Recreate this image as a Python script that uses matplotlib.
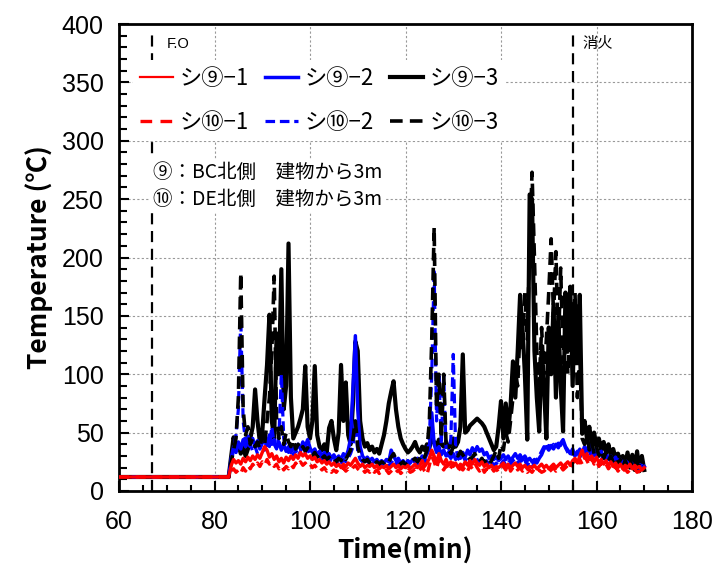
import numpy as np
import matplotlib
matplotlib.use('Agg')
import matplotlib.pyplot as plt
from matplotlib.lines import Line2D
from matplotlib.ticker import MultipleLocator
from matplotlib.font_manager import FontProperties

# 時間軸 (min) : 60-83 はほぼ一定, 83 以降は 0.5 min 刻みで読み取り
t_base = [60, 83]
t_fire = np.arange(83.0, 170.01, 0.5)

# シ⑨-1 (赤 実線)
s9_1 = [12, 12,
        13, 22, 27, 24, 26, 23, 28, 25, 29, 26,
        30, 27, 31, 28, 33, 38, 35, 29, 32, 27,
        30, 25, 28, 24, 29, 26, 30, 27, 31, 28,
        33, 30, 32, 28, 30, 27, 29, 25, 27, 24,
        26, 23, 25, 22, 24, 21, 23, 20, 23, 21,
        24, 22, 25, 28, 24, 21, 23, 20, 22, 21,
        23, 20, 22, 19, 21, 20, 22, 19, 21, 23,
        20, 22, 19, 21, 20, 22, 19, 21, 23, 20,
        22, 26, 21, 24, 28, 35, 30, 24, 32, 26,
        23, 27, 22, 25, 21, 24, 20, 23, 21, 25,
        22, 26, 23, 27, 24, 22, 25, 21, 23, 20,
        22, 19, 21, 20, 22, 24, 21, 23, 20, 22,
        24, 21, 23, 20, 22, 19, 21, 20, 22, 19,
        21, 23, 20, 22, 19, 21, 23, 20, 22, 24,
        21, 23, 25, 22, 26, 28, 24, 30, 35, 28,
        32, 27, 30, 25, 29, 24, 27, 23, 26, 22,
        25, 21, 24, 20, 23, 19, 22, 20, 23, 19,
        22, 20, 21, 18, 20]

# シ⑩-1 (赤 破線)
s10_1 = [12, 12,
         12, 17, 19, 16, 18, 15, 20, 17, 22, 19,
         23, 20, 24, 21, 25, 22, 27, 23, 25, 21,
         23, 19, 22, 18, 21, 19, 23, 20, 24, 21,
         25, 22, 24, 21, 23, 20, 22, 19, 21, 18,
         20, 17, 19, 16, 18, 16, 19, 17, 20, 17,
         19, 17, 20, 22, 19, 17, 19, 16, 18, 16,
         19, 16, 18, 15, 17, 16, 18, 15, 17, 19,
         16, 18, 15, 17, 16, 18, 16, 17, 19, 16,
         18, 21, 17, 14, 22, 30, 25, 19, 27, 21,
         18, 22, 17, 20, 24, 19, 17, 20, 18, 21,
         17, 22, 19, 24, 20, 17, 21, 16, 19, 17,
         20, 17, 19, 16, 18, 21, 18, 24, 17, 20,
         22, 18, 20, 17, 19, 16, 18, 16, 19, 16,
         18, 16, 17, 19, 16, 18, 20, 17, 19, 21,
         18, 20, 22, 19, 24, 26, 21, 27, 23, 30,
         26, 22, 28, 23, 26, 21, 24, 20, 23, 19,
         22, 18, 21, 17, 20, 17, 19, 16, 18, 16,
         19, 16, 17, 15, 17]

# シ⑨-2 (青 実線)
s9_2 = [12, 12,
        13, 28, 38, 33, 42, 36, 44, 38, 47, 40,
        45, 38, 43, 36, 41, 46, 39, 48, 40, 44,
        37, 42, 35, 40, 34, 38, 33, 37, 35, 40,
        36, 42, 38, 44, 37, 33, 36, 31, 34, 30,
        33, 29, 32, 28, 31, 27, 30, 27, 32, 29,
        35, 45, 90, 133, 70, 38, 30, 27, 29, 26,
        28, 25, 27, 24, 26, 24, 27, 25, 35, 30,
        26, 28, 24, 26, 23, 26, 24, 27, 25, 28,
        26, 30, 27, 32, 36, 67, 40, 33, 38, 31,
        35, 30, 33, 28, 32, 27, 30, 28, 33, 29,
        35, 31, 37, 33, 38, 34, 36, 31, 33, 28,
        30, 27, 29, 26, 28, 31, 27, 30, 26, 29,
        32, 28, 31, 27, 30, 26, 28, 25, 27, 24,
        28, 31, 36, 38, 35, 39, 36, 40, 37, 41,
        44, 38, 35, 32, 36, 30, 34, 29, 33, 38,
        34, 40, 35, 31, 36, 30, 34, 28, 32, 27,
        30, 25, 29, 24, 27, 23, 26, 22, 25, 21,
        24, 20, 23, 19, 21]

# シ⑩-2 (青 破線)
s10_2 = [12, 12,
         12, 25, 35, 48, 70, 148, 60, 42, 36, 40,
         34, 38, 32, 37, 42, 35, 45, 38, 55, 40,
         36, 48, 100, 45, 38, 33, 37, 31, 35, 30,
         34, 38, 33, 36, 31, 28, 31, 27, 30, 26,
         29, 25, 28, 24, 27, 23, 26, 23, 27, 25,
         28, 32, 38, 60, 34, 27, 25, 22, 24, 22,
         24, 21, 23, 21, 23, 21, 23, 21, 24, 27,
         23, 25, 22, 24, 21, 23, 21, 24, 26, 23,
         25, 28, 24, 30, 45, 100, 190, 60, 101, 40,
         99, 35, 30, 45, 117, 38, 28, 26, 30, 26,
         29, 25, 28, 31, 27, 24, 27, 23, 26, 22,
         25, 22, 24, 21, 23, 26, 22, 25, 23, 26,
         28, 24, 27, 23, 26, 22, 25, 22, 24, 27,
         30, 34, 38, 36, 39, 37, 40, 38, 41, 39,
         43, 37, 33, 30, 34, 29, 32, 36, 31, 35,
         30, 34, 29, 33, 28, 32, 27, 30, 26, 29,
         25, 28, 24, 27, 23, 26, 22, 25, 21, 24,
         20, 23, 19, 22, 20]

# シ⑨-3 (黒 実線)
s9_3 = [12, 12,
        13, 30, 46, 35, 40, 32, 38, 30, 36, 45,
        55, 87, 60, 42, 50, 80, 108, 151, 60, 45,
        135, 100, 190, 70, 90, 212, 80, 45, 50, 55,
        62, 70, 107, 55, 45, 60, 107, 48, 38, 35,
        40, 33, 54, 60, 45, 35, 50, 108, 60, 93,
        48, 40, 75, 128, 120, 60, 45, 38, 41, 35,
        38, 33, 36, 32, 40, 48, 60, 75, 85, 94,
        70, 55, 45, 40, 36, 33, 35, 38, 42, 36,
        33, 38, 35, 40, 37, 45, 42, 38, 44, 40,
        38, 42, 37, 40, 45, 38, 42, 55, 117, 50,
        52, 56, 58, 60, 62, 60, 58, 55, 50, 45,
        40, 35, 38, 55, 77, 45, 75, 50, 73, 111,
        80, 120, 168, 140, 100, 44, 254, 250, 120, 80,
        51, 120, 90, 45, 140, 100, 160, 80, 150, 90,
        51, 170, 120, 175, 90, 160, 110, 168, 49, 60,
        45, 55, 40, 50, 38, 45, 35, 42, 33, 40,
        30, 36, 28, 32, 25, 30, 22, 33, 20, 31,
        18, 34, 17, 30, 18]

# シ⑩-3 (黒 破線)
s10_3 = [12, 12,
         12, 25, 35, 45, 80, 187, 70, 48, 55, 40,
         45, 38, 42, 36, 48, 40, 60, 80, 120, 184,
         60, 45, 55, 40, 50, 42, 38, 44, 36, 40,
         35, 38, 34, 37, 33, 30, 33, 29, 32, 28,
         30, 27, 29, 26, 28, 25, 28, 26, 30, 27,
         31, 35, 45, 60, 38, 30, 27, 25, 27, 24,
         26, 23, 25, 23, 25, 24, 27, 25, 29, 32,
         27, 25, 23, 25, 22, 24, 23, 26, 28, 25,
         28, 32, 29, 35, 60, 130, 226, 70, 100, 45,
         100, 40, 35, 32, 38, 33, 30, 34, 31, 28,
         30, 27, 29, 32, 28, 25, 28, 24, 27, 23,
         26, 30, 35, 28, 40, 35, 50, 42, 60, 80,
         100, 90, 140, 120, 170, 130, 210, 273, 200, 120,
         90, 140, 100, 130, 170, 216, 150, 205, 120, 191,
         110, 150, 100, 140, 130, 170, 80, 120, 45, 40,
         48, 35, 42, 32, 38, 30, 35, 28, 33, 26,
         30, 24, 28, 22, 27, 20, 26, 21, 28, 19,
         25, 20, 24, 18, 19]

labels = ['シ⑨−1', 'シ⑨−2', 'シ⑨−3', 'シ⑩−1', 'シ⑩−2', 'シ⑩−3']
note_lines = ['⑨：BC北側　建物から3m', '⑩：DE北側　建物から3m']
t_fo = 67
t_ext = 155

jp = ['Noto Sans CJK JP', 'DejaVu Sans']
plt.rcParams['font.family'] = jp

t_all = np.concatenate([t_base, t_fire])

fig = plt.figure(figsize=(7.15, 5.77), dpi=100)
ax = fig.add_axes([119/715, 1 - 491/577, 573/715, 467/577])

st = {
    's9_3': dict(color='black', lw=3.0, ls='-', zorder=3),
    's9_2': dict(color='#0000ff', lw=2.5, ls='-', zorder=4),
    's10_2': dict(color='#0000ff', lw=2.3, dashes=(3, 1.5), zorder=5),
    's10_3': dict(color='black', lw=2.6, dashes=(3.5, 2), zorder=6),
    's9_1': dict(color='#ff0000', lw=2.4, ls='-', zorder=7),
    's10_1': dict(color='#ff0000', lw=2.4, dashes=(3, 2), zorder=8),
}
data = {'s9_1': s9_1, 's9_2': s9_2, 's9_3': s9_3,
        's10_1': s10_1, 's10_2': s10_2, 's10_3': s10_3}
for k in ['s9_3', 's9_2', 's10_2', 's10_3', 's9_1', 's10_1']:
    ax.plot(t_all, data[k], **st[k])

# F.O / 消火 の縦線
ax.axvline(t_fo, ymin=0, ymax=0.99, color='black', lw=1.6, dashes=(5, 3), zorder=9)
ax.axvline(t_ext, ymin=0, ymax=0.99, color='black', lw=1.6, dashes=(5, 3), zorder=9)
ax.text(70.0, 383, 'F.O', fontsize=10.5, va='center', ha='left', family=['Liberation Sans'])
ax.text(157.0, 383, '消火', fontsize=11, va='center', ha='left')

ax.set_xlim(60, 180)
ax.set_ylim(0, 400)
ax.xaxis.set_major_locator(MultipleLocator(20))
ax.xaxis.set_minor_locator(MultipleLocator(5))
ax.yaxis.set_major_locator(MultipleLocator(50))
ax.yaxis.set_minor_locator(MultipleLocator(10))
ax.tick_params(which='both', direction='in', top=False, right=False, width=1.5)
ax.tick_params(axis='x', which='major', length=7, pad=14)
ax.tick_params(axis='x', which='minor', length=4)
ax.tick_params(axis='y', which='major', length=7, pad=11)
ax.tick_params(axis='y', which='minor', length=6)
for lab in ax.get_xticklabels() + ax.get_yticklabels():
    lab.set_fontfamily('Liberation Sans')
    lab.set_fontsize(18)
ax.grid(True, which='major', color='#999999', lw=0.8, ls=(0, (2, 2)))
for sp in ax.spines.values():
    sp.set_linewidth(2.0)

ax.set_xlabel('Time(min)', fontsize=19, fontweight='bold', labelpad=2)
ax.set_ylabel('Temperature (℃)', fontsize=19, fontweight='bold', labelpad=6)

# 凡例 (行: ⑨, ⑩)
h = {}
for k in data:
    kw = dict(st[k])
    kw.pop('zorder')
    h[k] = Line2D([], [], **kw)
h['s9_1'].set_linewidth(1.6)
h['s10_1'].set_dashes((3.5, 2.5))
order = ['s9_1', 's10_1', 's9_2', 's10_2', 's9_3', 's10_3']
lab_map = dict(zip(['s9_1', 's9_2', 's9_3', 's10_1', 's10_2', 's10_3'], labels))
leg = ax.legend([h[k] for k in order], [lab_map[k] for k in order], ncol=3,
                loc='upper left', bbox_to_anchor=(0.025, 0.922),
                prop=FontProperties(family=jp, size=16),
                handlelength=1.5, handletextpad=0.3, columnspacing=0.7,
                labelspacing=0.95, borderpad=0.3, borderaxespad=0,
                frameon=True, fancybox=False, framealpha=1)
leg.get_frame().set_edgecolor('none')
leg.set_zorder(20)

for i, s in enumerate(note_lines):
    ax.text(0.059, 0.682 - 0.058 * i, s, transform=ax.transAxes, va='center', ha='left',
            fontsize=14, zorder=21,
            bbox=dict(facecolor='white', edgecolor='none', pad=2))

fig.savefig('out.png', dpi=100)
